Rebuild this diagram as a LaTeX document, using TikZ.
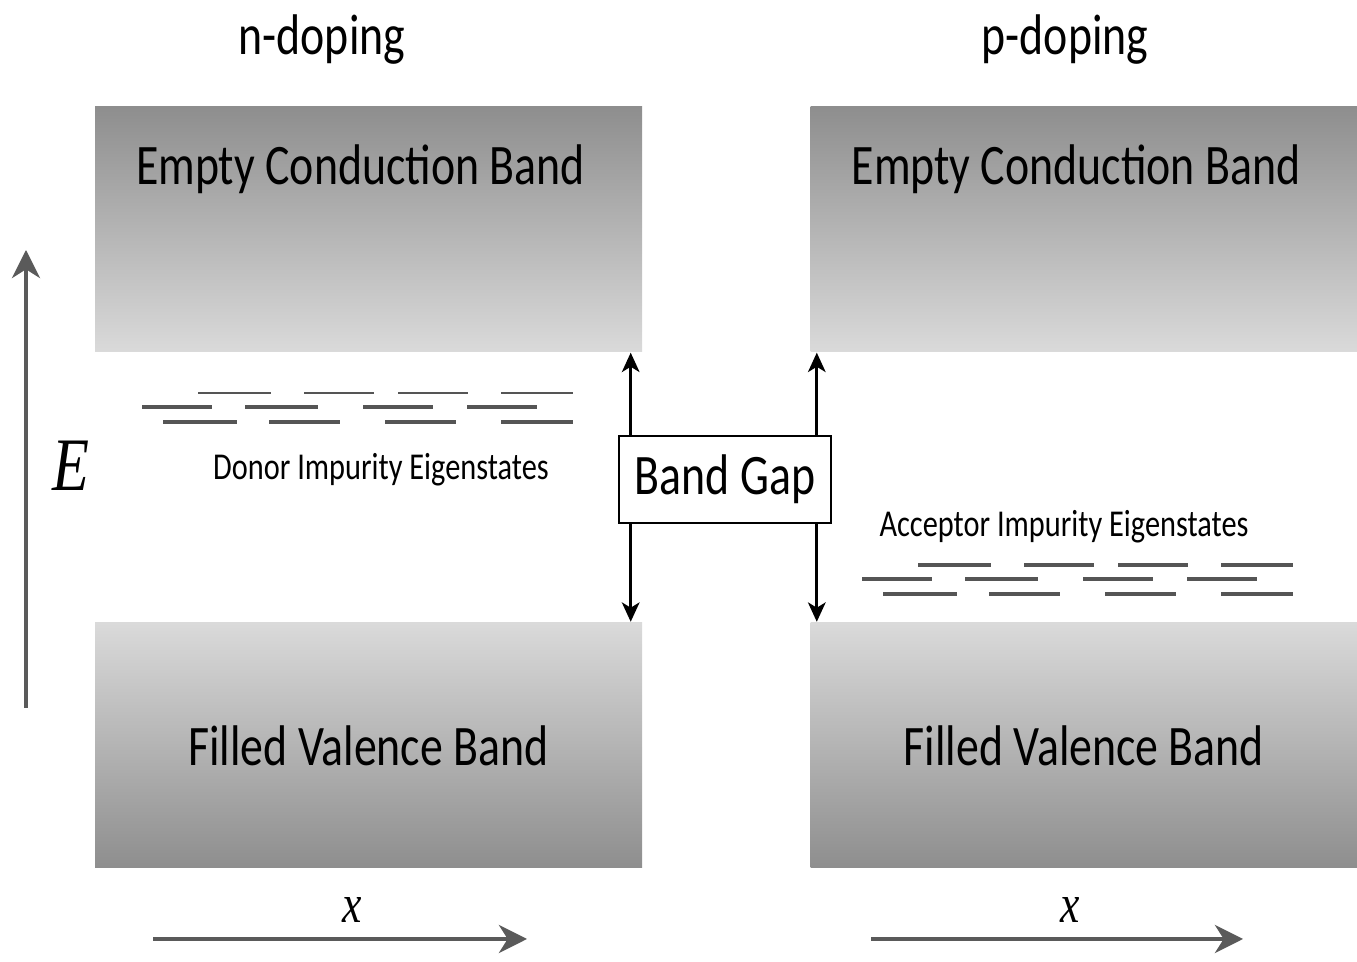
\documentclass[tikz,border=0pt]{standalone}
\usepackage{fontspec}
\setmainfont{Carlito}[FakeStretch=0.8]
\newfontfamily\axisfont{Liberation Serif}[FakeStretch=0.8]
\usetikzlibrary{arrows.meta,positioning}

\definecolor{banddark}{HTML}{8E8E8E}
\definecolor{bandlight}{HTML}{DADADA}
\definecolor{axisgray}{HTML}{5A5A5A}
\definecolor{levelgray}{HTML}{555555}

\tikzset{
  band/.style={minimum width=5.47cm, minimum height=2.45cm, inner sep=0pt},
  cband/.style={band, top color=banddark, bottom color=bandlight},
  vband/.style={band, top color=bandlight, bottom color=banddark},
  bigtext/.style={font=\fontsize{16.3}{19}\selectfont},
  smalltext/.style={font=\fontsize{10.8}{13}\selectfont},
  gaparrow/.style={line width=0.85pt, {Stealth[length=5.5pt,width=5pt,inset=1.5pt]}-{Stealth[length=5.5pt,width=5pt,inset=1.5pt]}},
  axisarrow/.style={axisgray, line width=1.1pt, -{Stealth[length=8pt,width=8pt,inset=2.5pt]}},
}

\begin{document}
\begin{tikzpicture}
  \useasboundingbox (0,0) rectangle (13.57,9.62);

  % Bands (n-doping left, p-doping right)
  \node[cband] (cbn) at (3.685,7.325) {};
  \node[cband] (cbp) at (10.84,7.325) {};
  \node[vband] (vbn) at (3.685,2.17) {};
  \node[vband] (vbp) at (10.84,2.17) {};

  \node[bigtext, anchor=base] (cbntext) at ([xshift=-0.08cm, yshift=-0.78cm]cbn.north) {Empty Conduction Band};
  \node[bigtext, anchor=base] (cbptext) at ([xshift=-0.08cm, yshift=-0.78cm]cbp.north) {Empty Conduction Band};
  \node[bigtext, anchor=base] (vbntext) at ([yshift=1.03cm]vbn.south) {Filled Valence Band};
  \node[bigtext, anchor=base] (vbptext) at ([yshift=1.03cm]vbp.south) {Filled Valence Band};

  % Titles
  \node[bigtext] (ntitle) at (3.22,9.22) {n-doping};
  \node[bigtext] (ptitle) at (10.65,9.22) {p-doping};

  % Impurity levels: donor (shift 0) and acceptor (shifted)
  \foreach \dx/\dy/\wtop in {0/0/0.45pt, 7.2/-1.72/0.9pt} {
    \begin{scope}[shift={(\dx,\dy)}, levelgray]
      \foreach \xa/\xb in {1.98/2.71, 3.04/3.74, 3.98/4.68, 5.01/5.73}
        \draw[line width=\wtop] (\xa,5.69) -- (\xb,5.69);
      \foreach \xa/\xb in {1.42/2.12, 2.45/3.18, 3.63/4.33, 4.67/5.37}
        \draw[line width=0.9pt] (\xa,5.55) -- (\xb,5.55);
      \foreach \xa/\xb in {1.63/2.37, 2.69/3.40, 3.85/4.56, 5.01/5.73}
        \draw[line width=0.9pt] (\xa,5.40) -- (\xb,5.40);
    \end{scope}
  }
  \node[smalltext] (donor) at (3.81,4.92) {Donor Impurity Eigenstates};
  \node[smalltext] (acceptor) at (10.64,4.35) {Acceptor Impurity Eigenstates};

  % Band gap arrows + box
  \draw[gaparrow] ([xshift=-0.12cm]cbn.south east) -- ([xshift=-0.12cm]vbn.north east);
  \draw[gaparrow] ([xshift=0.07cm]cbp.south west) -- ([xshift=0.07cm]vbp.north west);
  \node[bigtext, draw, line width=0.6pt, fill=white, minimum width=2.12cm, minimum height=0.87cm, inner sep=0pt] (gap) at (7.25,4.825) {Band Gap};

  % Axes
  \coordinate (ebot) at (0.26,2.54);
  \coordinate (etop) at (0.26,7.12);
  \draw[axisarrow] (ebot) -- (etop);
  \node[font=\axisfont\itshape\fontsize{21.5}{24}\selectfont] (elabel) at (0.71,4.96) {E};

  \foreach \name/\xa/\xb/\xl in {n/1.53/5.27/3.52, p/8.71/12.43/10.70} {
    \coordinate (x\name a) at (\xa,0.23);
    \coordinate (x\name b) at (\xb,0.23);
    \draw[axisarrow] (x\name a) -- (x\name b);
    \node[font=\axisfont\itshape\fontsize{15.5}{18}\selectfont] (x\name label) at (\xl,0.52) {x};
  }
\end{tikzpicture}
\end{document}
